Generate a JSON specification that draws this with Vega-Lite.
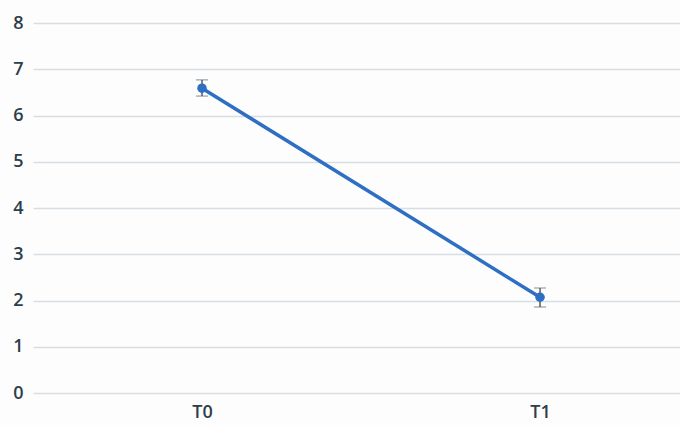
{
  "$schema": "https://vega.github.io/schema/vega-lite/v6.json",
  "width": 647,
  "height": 370,
  "autosize": "none",
  "padding": {"left": 33, "top": 23, "right": 0, "bottom": 32},
  "background": "#fdfdfe",
  "config": {
    "view": {"stroke": null},
    "axis": {"labelFont": "Open Sans", "labelFontSize": 18, "labelFontWeight": 600, "labelColor": "#2f3d48", "domain": false, "ticks": false, "title": null}
  },
  "data": {"values": [
    {"time": "T0", "mean": 6.59, "lo": 6.42, "hi": 6.77},
    {"time": "T1", "mean": 2.07, "lo": 1.86, "hi": 2.27}
  ]},
  "encoding": {
    "x": {"field": "time", "type": "ordinal", "title": null, "scale": {"type": "point", "padding": 0.457, "align": 0.547},
      "axis": {"labelAngle": 0, "labelPadding": 10, "grid": false}}
  },
  "layer": [
    {
      "mark": {"type": "line", "color": "#2e6fc4", "strokeWidth": 3.5},
      "encoding": {
        "y": {"field": "mean", "type": "quantitative", "title": null, "scale": {"domain": [0, 8]},
          "axis": {"values": [0,1,2,3,4,5,6,7,8], "gridColor": "#d6dde3", "gridWidth": 1.3, "labelPadding": 10}}
      }
    },
    {
      "mark": {"type": "errorbar", "ticks": {"size": 12, "color": "#555b60", "strokeWidth": 1.5}, "rule": {"color": "#555b60", "strokeWidth": 1.5}},
      "encoding": {
        "y": {"field": "lo", "type": "quantitative", "title": null},
        "y2": {"field": "hi"}
      }
    },
    {
      "mark": {"type": "point", "filled": true, "color": "#2e6fc4", "size": 90, "opacity": 1},
      "encoding": {
        "y": {"field": "mean", "type": "quantitative", "title": null}
      }
    }
  ]
}
